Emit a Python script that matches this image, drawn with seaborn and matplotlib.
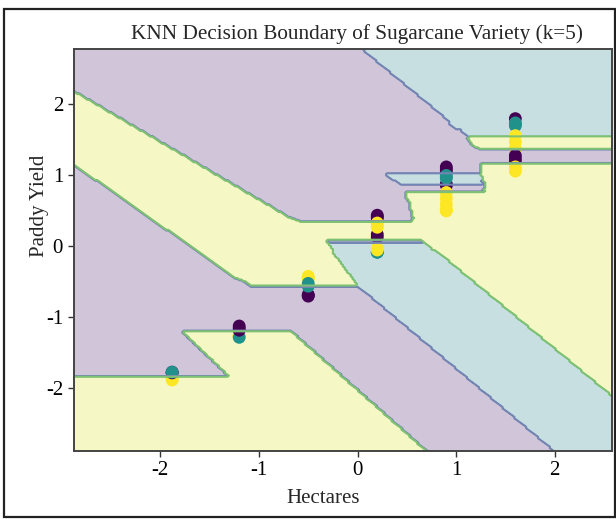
import numpy as np
import pandas as pd
import matplotlib
matplotlib.use("Agg")
import matplotlib.pyplot as plt
from matplotlib.patches import Rectangle
import seaborn as sns

# Standardised field records: farm size, paddy yield and sugarcane variety (0, 1, 2)
hectares = [
    -1.88, -1.88, -1.88, -1.88, -1.88, -1.88,
    -1.20, -1.20, -1.20, -1.20, -1.20, -1.20, -1.20,
    -0.50, -0.50, -0.50, -0.50, -0.50, -0.50, -0.50, -0.50,
    0.20, 0.20, 0.20, 0.20, 0.20, 0.20, 0.20, 0.20, 0.20, 0.20, 0.20, 0.20, 0.20,
    0.90, 0.90, 0.90, 0.90, 0.90, 0.90, 0.90, 0.90, 0.90, 0.90, 0.90, 0.90, 0.90, 0.90,
    1.60, 1.60, 1.60, 1.60, 1.60, 1.60, 1.60, 1.60, 1.60, 1.60, 1.60, 1.60, 1.60,
]
paddy_yield = [
    -1.86, -1.88, -1.85, -1.77, -1.78, -1.77,
    -1.26, -1.26, -1.26, -1.28, -1.12, -1.15, -1.18,
    -0.42, -0.44, -0.46, -0.68, -0.69, -0.70, -0.52, -0.56,
    -0.08, -0.08, -0.08, 0.40, 0.42, 0.44, 0.13, 0.17, 0.27, 0.30, 0.33, -0.03, -0.05,
    1.06, 1.09, 1.12, 0.86, 0.88, 0.50, 0.51, 0.53, 0.60, 0.68, 0.76, 0.96, 0.98, 1.00,
    1.80, 1.70, 1.72, 1.74, 1.38, 1.47, 1.56, 1.20, 1.24, 1.28, 1.06, 1.09, 1.12,
]
variety = [
    2, 2, 2, 0, 0, 1,
    2, 2, 2, 1, 0, 0, 0,
    2, 2, 2, 0, 0, 0, 1, 1,
    1, 1, 1, 0, 0, 0, 0, 0, 2, 2, 2, 2, 2,
    0, 0, 0, 0, 0, 2, 2, 2, 2, 2, 2, 1, 1, 1,
    0, 1, 1, 1, 2, 2, 2, 0, 0, 0, 2, 2, 2,
]

K = 5
STEP = 0.02

df = pd.DataFrame({"Hectares": hectares, "Paddy Yield": paddy_yield, "Variety": variety})
X = df[["Hectares", "Paddy Yield"]].to_numpy()
y = df["Variety"].to_numpy()
classes = np.unique(y)

# Mesh covering the data with one unit of padding
x_min, x_max = X[:, 0].min() - 1, X[:, 0].max() + 1
y_min, y_max = X[:, 1].min() - 1, X[:, 1].max() + 1
xx, yy = np.meshgrid(np.arange(x_min, x_max, STEP), np.arange(y_min, y_max, STEP))
grid = np.c_[xx.ravel(), yy.ravel()]

# k-nearest-neighbour vote (ties go to the lowest class label)
d2 = ((grid[:, None, :] - X[None, :, :]) ** 2).sum(axis=2)
nearest = np.argsort(d2, axis=1, kind="stable")[:, :K]
votes = y[nearest]
counts = np.stack([(votes == c).sum(axis=1) for c in classes], axis=1)
Z = classes[counts.argmax(axis=1)].reshape(xx.shape)

sns.set_style("ticks")
plt.rcParams["font.family"] = ["Liberation Serif", "DejaVu Serif"]
plt.rcParams["font.size"] = 15
plt.rcParams["axes.unicode_minus"] = False

fig = plt.figure(figsize=(6.16, 5.19), dpi=100)
ax = fig.add_axes([73.5 / 616, 1 - 451 / 519, 538.5 / 616, 402 / 519])

ax.contourf(xx, yy, Z, alpha=0.25, cmap="viridis")
# region edges: purple/teal edges in slate blue, edges toward yellow in green
ax.contour(xx, yy, Z, levels=[0.5, 1.5], colors=["#7385b3", "#7fc173"], linewidths=1.5)

cmap = plt.get_cmap("viridis")
palette = {c: cmap(i / (len(classes) - 1)) for i, c in enumerate(classes)}
sns.scatterplot(data=df, x="Hectares", y="Paddy Yield", hue="Variety", palette=palette,
                s=85, linewidth=0, legend=False, ax=ax)

ax.set_xlim(xx.min(), xx.max())
ax.set_ylim(yy.min(), yy.max())
ax.set_xticks([-2, -1, 0, 1, 2])
ax.set_yticks([-2, -1, 0, 1, 2])
ax.tick_params(direction="out", length=4, width=1, colors="#333333", labelcolor="black", labelsize=15)
for sp in ax.spines.values():
    sp.set_color("#444444")
    sp.set_linewidth(1.4)

ax.set_title("KNN Decision Boundary of Sugarcane Variety (k=5)", fontsize=15.3, x=0.526, pad=7)
ax.set_xlabel("Hectares", fontsize=15)
ax.set_ylabel("Paddy Yield", fontsize=15)
ax.xaxis.set_label_coords(0.463, -0.095)
ax.yaxis.set_label_coords(-0.045, 0.61)

fig.patches.append(Rectangle((3.5 / 616, 2.5 / 519), 611 / 616, 508 / 519, transform=fig.transFigure,
                             fill=False, edgecolor="#222222", linewidth=1.6))

fig.savefig("out.png", dpi=100)
